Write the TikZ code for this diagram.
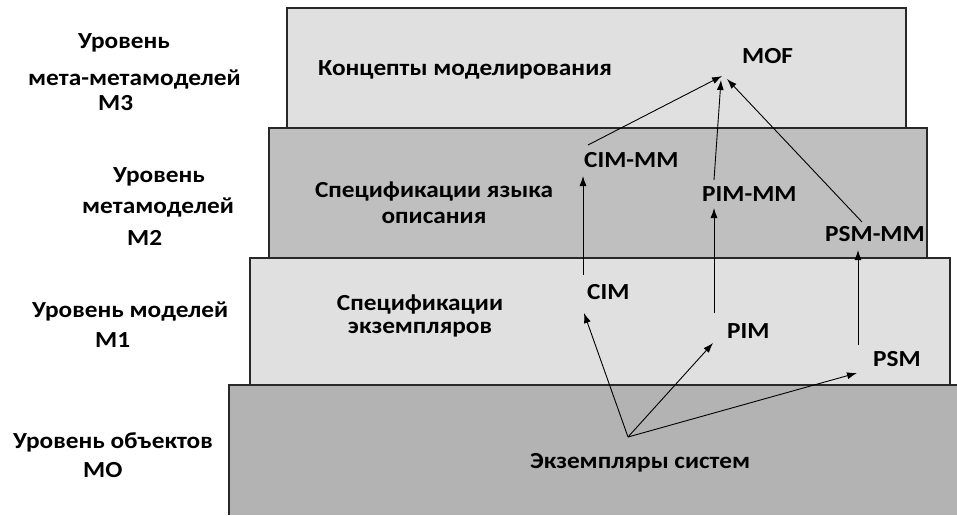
\documentclass[tikz,border=0pt]{standalone}
\usepackage{fontspec}
\setmainfont{Carlito}[FakeStretch=1.1]
\usetikzlibrary{arrows.meta}
\definecolor{lightlvl}{RGB}{224,224,224}
\definecolor{midlvl}{RGB}{191,191,191}
\definecolor{darklvl}{RGB}{179,179,179}
\definecolor{edge}{RGB}{40,40,40}
\tikzset{
  lvlbox/.style={draw=edge, line width=1.6pt},
  lbl/.style={inner sep=0pt, anchor=base west, font=\bfseries\fontsize{23}{26}\selectfont},
  boxtxt/.style={inner sep=0pt, align=center, font=\bfseries\fontsize{23}{26}\selectfont},
  mdl/.style={inner sep=0pt, anchor=base west, font=\bfseries\fontsize{23}{26}\selectfont},
  arr/.style={draw=black, line width=0.9pt, -{Latex[length=10pt,width=7pt]}}
}
\begin{document}
\begin{tikzpicture}[x=1pt,y=-1pt]
\useasboundingbox[fill=white] (0,0) rectangle (957,515);
% level boxes
\fill[darklvl] (229,385) rectangle (957,515);
\draw[draw=edge, line width=1.6pt] (229,515) -- (229,385) -- (957,385);
\filldraw[lvlbox, fill=lightlvl] (250,258) rectangle (950,385);
\filldraw[lvlbox, fill=midlvl] (269,128) rectangle (927,258);
\filldraw[lvlbox, fill=lightlvl] (287,8) rectangle (906,128);
% left labels
\node[lbl] (l3a) at (78,48) {Уровень};
\node[lbl] (l3b) at (28,85) {мета-метамоделей};
\node[lbl] (l3c) at (98,110) {M3};
\node[lbl] (l2a) at (113,182) {Уровень};
\node[lbl] (l2b) at (82,213) {метамоделей};
\node[lbl] (l2c) at (127,245) {M2};
\node[lbl] (l1a) at (32,317) {Уровень моделей};
\node[lbl] (l1b) at (95,347) {M1};
\node[lbl] (l0a) at (13,448) {Уровень объектов};
\node[lbl] (l0b) at (83,477) {MO};
% box texts
\node[lbl] (t3) at (318,75) {Концепты моделирования};
\node[boxtxt] (t2) at (434,203) {Спецификации языка\\описания};
\node[boxtxt, font=\bfseries\fontsize{23}{23}\selectfont] (t1) at (420,316) {Спецификации\\экземпляров};
% model nodes
\node[mdl] (MOF) at (742,63) {MOF};
\node[mdl] (CIMMM) at (584,167) {CIM-MM};
\node[mdl] (PIMMM) at (702,201) {PIM-MM};
\node[mdl] (PSMMM) at (825,241) {PSM-MM};
\node[mdl] (CIM) at (587,299) {CIM};
\node[mdl] (PIM) at (727,338) {PIM};
\node[mdl] (PSM) at (873,366) {PSM};
\node[mdl] (Sys) at (530,468) {Экземпляры систем};
% connectors
\draw[arr] ([shift={(4,-22)}]CIMMM.base west) -- ([shift={(-20,13)}]MOF.base west);
\draw[arr] ([shift={(12,-21)}]PIMMM.base west) -- ([shift={(-21,17)}]MOF.base west);
\draw[arr] ([shift={(37,-19)}]PSMMM.base west) -- ([shift={(-15,16)}]MOF.base west);
\draw[arr] ([shift={(-4,-24)}]CIM.base west) -- ([shift={(-1,9)}]CIMMM.base west);
\draw[arr] ([shift={(-13,-25)}]PIM.base west) -- ([shift={(12,7)}]PIMMM.base west);
\draw[arr] ([shift={(-15,-21)}]PSM.base west) -- ([shift={(33,9)}]PSMMM.base west);
\draw[arr] ([shift={(98,-31)}]Sys.base west) -- ([shift={(-3,14)}]CIM.base west);
\draw[arr] ([shift={(98,-31)}]Sys.base west) -- ([shift={(-14,5)}]PIM.base west);
\draw[arr] ([shift={(98,-31)}]Sys.base west) -- ([shift={(-16,7)}]PSM.base west);
\end{tikzpicture}
\end{document}
